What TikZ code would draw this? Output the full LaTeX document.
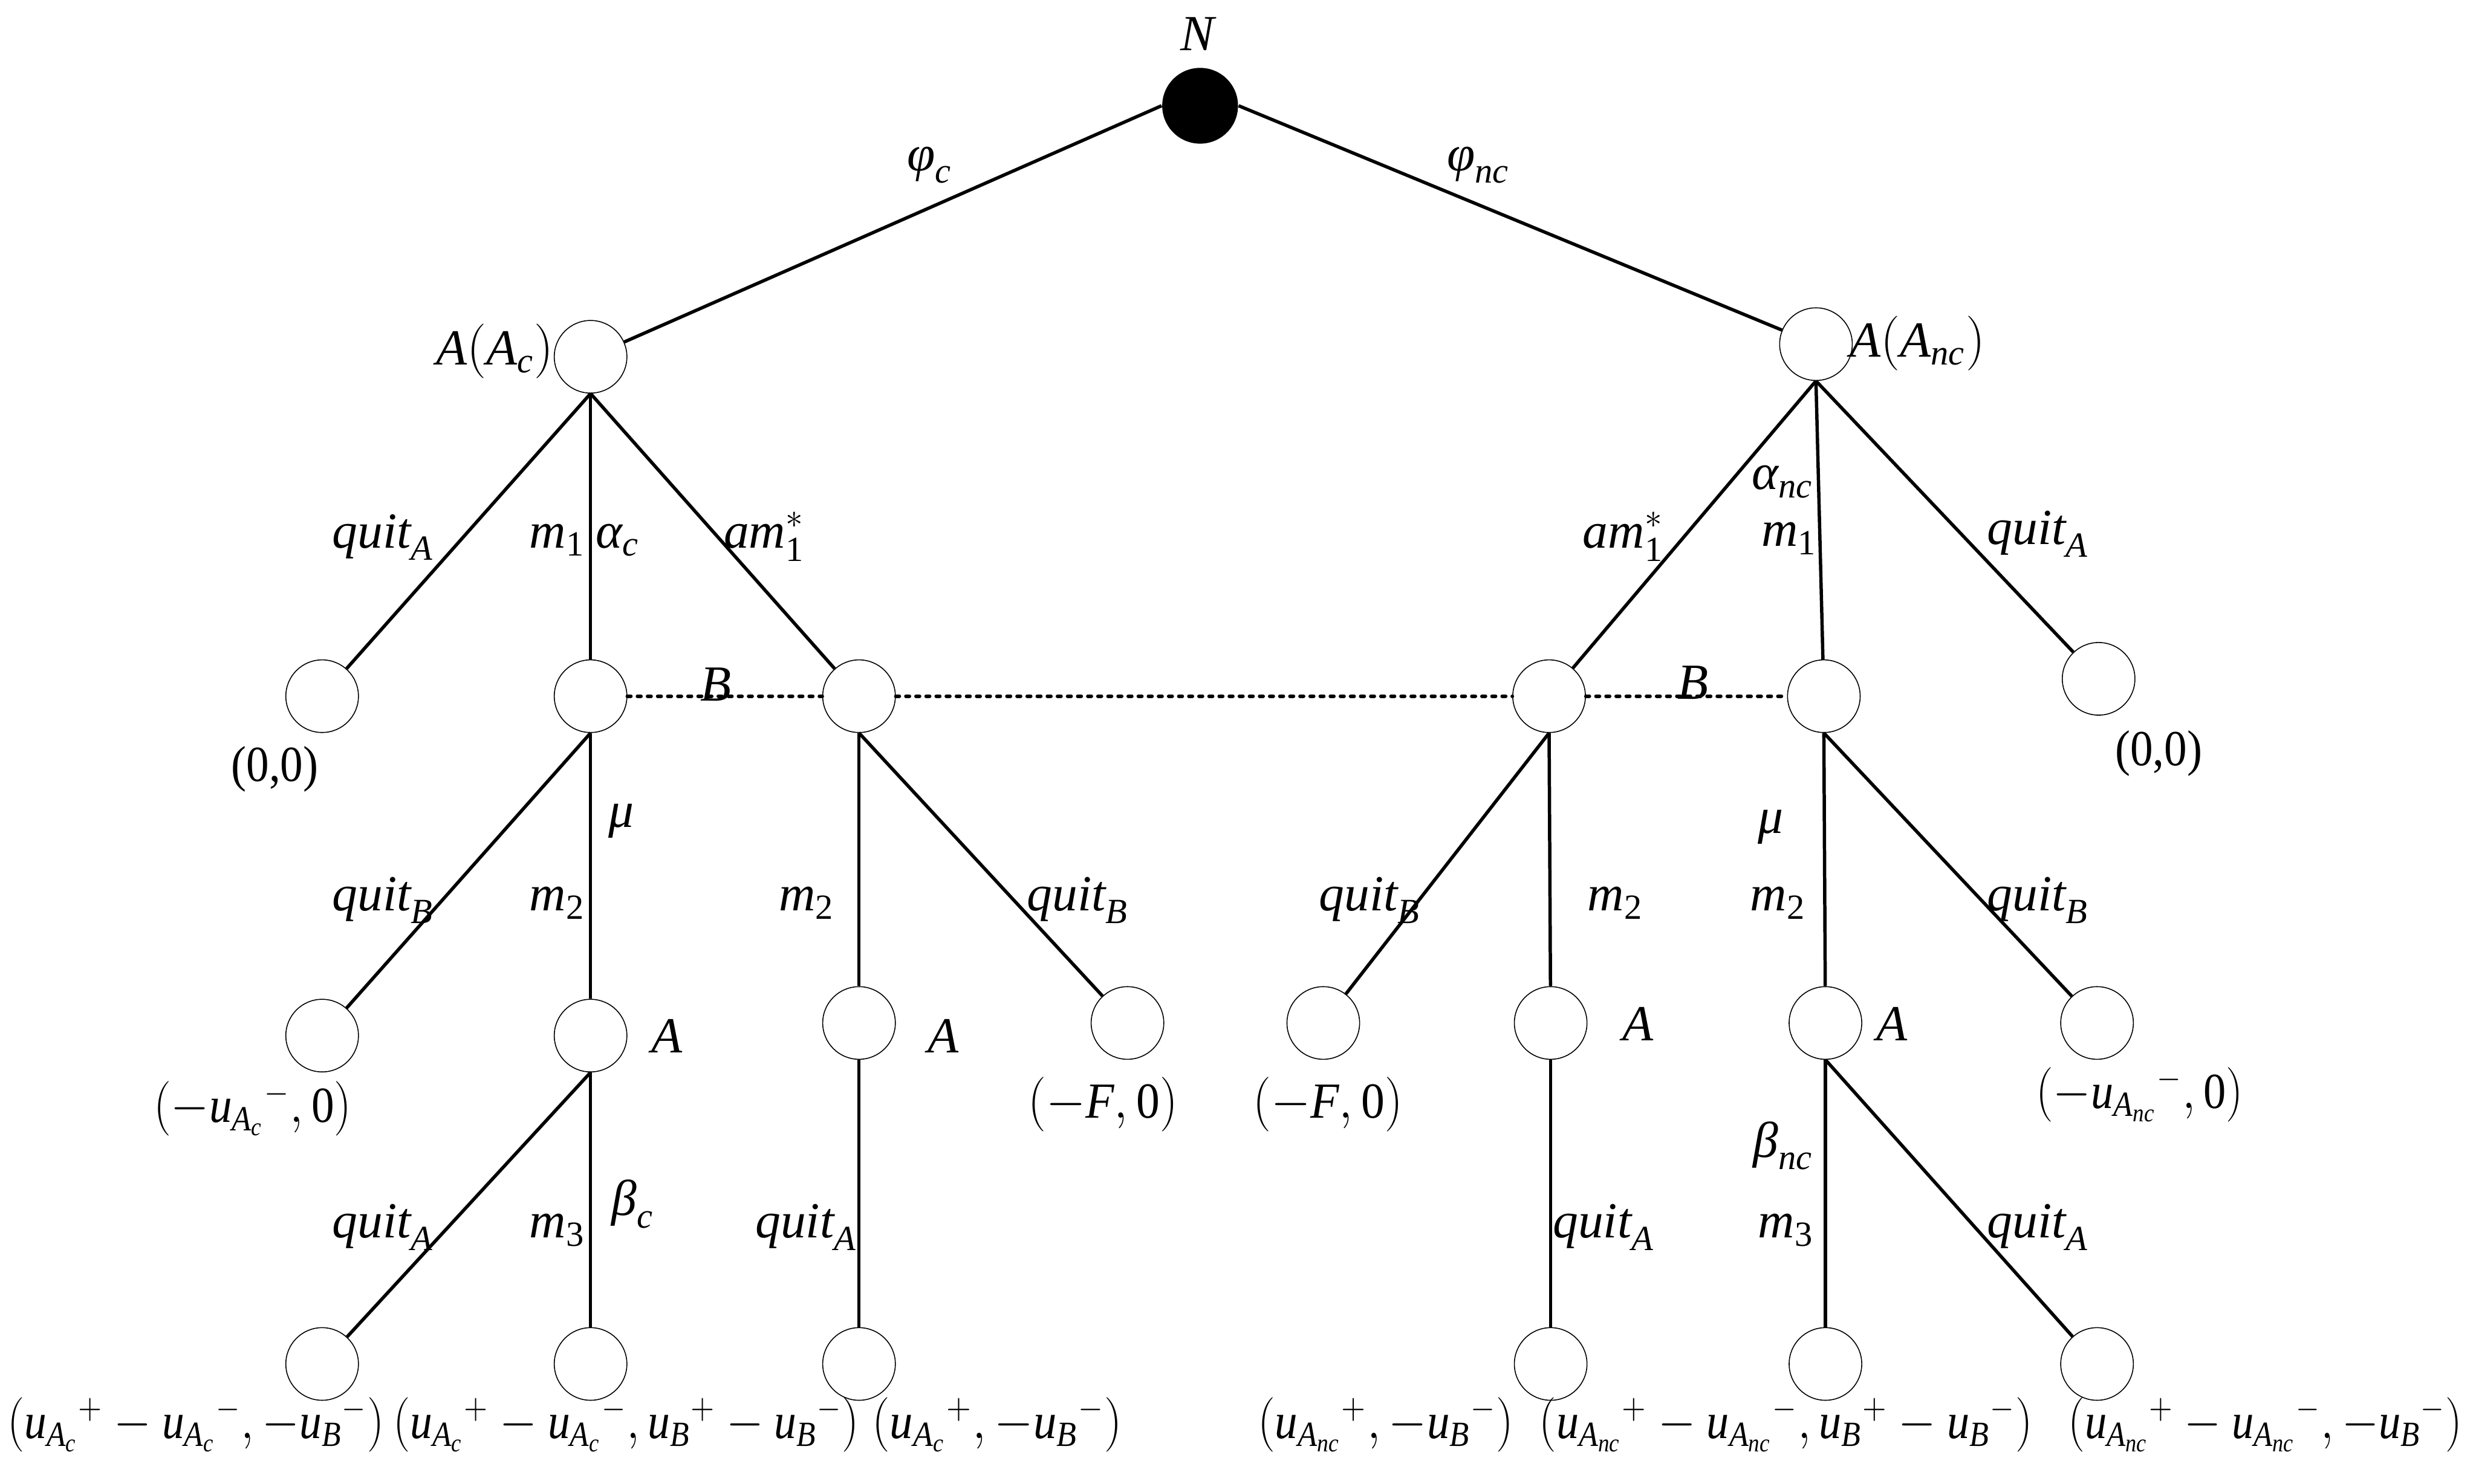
\documentclass[tikz,border=0pt]{standalone}
\usepackage{amsmath}
\usepackage{graphicx}
\usepackage{fontspec}
\setmainfont{Liberation Serif}
\newcommand\ti[1]{\textit{#1}}
\newcommand\tr[1]{\textrm{#1}}
\newcommand\uAc{\ti{u}_{\ti{A}_{\ti{c}}}}
\newcommand\uAnc{\ti{u}_{\ti{A}_{\ti{nc}}}}
\newcommand\uB{\ti{u}_{\ti{B}}}
\newcommand\sq[2]{\scalebox{#1}[1]{#2}}
\begin{document}
\begin{tikzpicture}[x=0.5pt,y=-0.5pt,
  dec/.style={circle,draw,line width=0.3pt,minimum size=23pt,inner sep=0pt},
  chance/.style={circle,fill=black,minimum size=24pt,inner sep=0pt},
  edge/.style={line width=1.05pt},
  info/.style={line width=1.15pt,line cap=round,dash pattern=on 1.1pt off 2.1pt},
  lbl/.style={inner sep=0pt,font=\fontsize{16}{19}\selectfont,anchor=base west},
  pay/.style={inner sep=0pt,font=\fontsize{16}{19}\selectfont,anchor=base}]
\useasboundingbox (0,0) rectangle (1568,940);
% nodes
\node[chance] (n0) at (760,67) {};
\node[dec] (a1) at (374,226) {};
\node[dec] (a2) at (1150,218) {};
\node[dec] (b1) at (204,441) {};
\node[dec] (b2) at (374,441) {};
\node[dec] (b3) at (544,441) {};
\node[dec] (b4) at (981,441) {};
\node[dec] (b5) at (1155,441) {};
\node[dec] (b6) at (1329,430) {};
\node[dec] (c1) at (204,656) {};
\node[dec] (c2) at (374,656) {};
\node[dec] (c3) at (544,648) {};
\node[dec] (c4) at (714,648) {};
\node[dec] (c5) at (838,648) {};
\node[dec] (c6) at (982,648) {};
\node[dec] (c7) at (1156,648) {};
\node[dec] (c8) at (1328,648) {};
\node[dec] (d1) at (204,864) {};
\node[dec] (d2) at (374,864) {};
\node[dec] (d3) at (544,864) {};
\node[dec] (d4) at (982,864) {};
\node[dec] (d5) at (1156,864) {};
\node[dec] (d6) at (1328,864) {};
% edges
\draw[edge] (n0.west) -- (a1);
\draw[edge] (n0.east) -- (a2);
\draw[edge] (a1.south) -- (b1);
\draw[edge] (a1.south) -- (b2);
\draw[edge] (a1.south) -- (b3);
\draw[edge] (a2.south) -- (b4);
\draw[edge] (a2.south) -- (b5);
\draw[edge] (a2.south) -- (b6);
\draw[edge] (b2.south) -- (c1);
\draw[edge] (b2.south) -- (c2);
\draw[edge] (b3.south) -- (c3);
\draw[edge] (b3.south) -- (c4);
\draw[edge] (b4.south) -- (c5);
\draw[edge] (b4.south) -- (c6);
\draw[edge] (b5.south) -- (c7);
\draw[edge] (b5.south) -- (c8);
\draw[edge] (c2.south) -- (d1);
\draw[edge] (c2.south) -- (d2);
\draw[edge] (c3.south) -- (d3);
\draw[edge] (c6.south) -- (d4);
\draw[edge] (c7.south) -- (d5);
\draw[edge] (c7.south) -- (d6);
\draw[info] (b2) -- (b3);
\draw[info] (b3) -- (b4);
\draw[info] (b4) -- (b5);
% labels
\node[lbl,anchor=base] (tN) at (759,32) {\ti{N}};
\node[lbl] (tphic) at (574,108) {$\ti{φ}_{\ti{c}}$};
\node[lbl] (tphinc) at (916,108) {$\ti{φ}_{\ti{nc}}$};
\node[lbl,anchor=base east] (tAc) at (351,231) {$\ti{A}(\ti{A}_{\ti{c}})$};
\node[lbl] (tAnc) at (1171,226) {$\ti{A}(\ti{A}_{\ti{nc}})$};
% level 1
\node[lbl] (q1) at (210,347) {$\ti{quit}_{\ti{A}}$};
\node[lbl] (m1l) at (335,347) {$\ti{m}_{\tr{1}}$};
\node[lbl] (alc) at (377,347) {$\ti{α}_{\ti{c}}$};
\node[lbl] (am1l) at (458,347) {$\ti{am}_{\tr{1}}^{*}$};
\node[lbl] (am1r) at (1002,347) {$\ti{am}_{\tr{1}}^{*}$};
\node[lbl] (alnc) at (1109,310) {$\ti{α}_{\ti{nc}}$};
\node[lbl] (m1r) at (1115,346) {$\ti{m}_{\tr{1}}$};
\node[lbl] (q2) at (1258,345) {$\ti{quit}_{\ti{A}}$};
\node[lbl] (B1) at (443,444) {\ti{B}};
\node[lbl] (B2) at (1062,443) {\ti{B}};
\node[pay] (p00l) at (174,495) {\sq{0.9}{(0,0)}};
\node[pay] (p00r) at (1367,485) {\sq{0.9}{(0,0)}};
% level 2
\node[lbl] (mul) at (385,524) {\ti{μ}};
\node[lbl] (q3) at (210,577) {$\ti{quit}_{\ti{B}}$};
\node[lbl] (m2a) at (335,577) {$\ti{m}_{\tr{2}}$};
\node[lbl] (m2b) at (493,577) {$\ti{m}_{\tr{2}}$};
\node[lbl] (q4) at (650,577) {$\ti{quit}_{\ti{B}}$};
\node[lbl] (q5) at (835,577) {$\ti{quit}_{\ti{B}}$};
\node[lbl] (m2c) at (1005,577) {$\ti{m}_{\tr{2}}$};
\node[lbl] (mur) at (1113,528) {\ti{μ}};
\node[lbl] (m2d) at (1108,577) {$\ti{m}_{\tr{2}}$};
\node[lbl] (q6) at (1258,577) {$\ti{quit}_{\ti{B}}$};
\node[lbl] (A1) at (412,667) {\ti{A}};
\node[lbl] (A2) at (587,667) {\ti{A}};
\node[lbl] (A3) at (1027,659) {\ti{A}};
\node[lbl] (A4) at (1188,659) {\ti{A}};
\node[pay] (p1) at (160,711) {\sq{0.9}{$\left(-\uAc{}^{-},\tr{0}\right)$}};
\node[pay] (p2) at (698.5,708) {\sq{0.93}{$\left(-\ti{F},\tr{0}\right)$}};
\node[pay] (p3) at (841,708) {\sq{0.93}{$\left(-\ti{F},\tr{0}\right)$}};
\node[pay] (p4) at (1355,702) {\sq{0.89}{$\left(-\uAnc{}^{-},\tr{0}\right)$}};
% level 3
\node[lbl] (betc) at (387,770) {$\ti{β}_{\ti{c}}$};
\node[lbl] (betnc) at (1110,733) {$\ti{β}_{\ti{nc}}$};
\node[lbl] (q7) at (210,784) {$\ti{quit}_{\ti{A}}$};
\node[lbl] (m3l) at (335,784) {$\ti{m}_{\tr{3}}$};
\node[lbl] (q8) at (478,784) {$\ti{quit}_{\ti{A}}$};
\node[lbl] (q9) at (983,784) {$\ti{quit}_{\ti{A}}$};
\node[lbl] (m3r) at (1113,784) {$\ti{m}_{\tr{3}}$};
\node[lbl] (q10) at (1258,784) {$\ti{quit}_{\ti{A}}$};
% payoffs
\node[pay] (r1) at (124,911) {\sq{0.88}{$\left(\uAc{}^{+}-\uAc{}^{-},-\uB{}^{-}\right)$}};
\node[pay] (r2) at (396.5,911) {\sq{0.88}{$\left(\uAc{}^{+}-\uAc{}^{-},\uB{}^{+}-\uB{}^{-}\right)$}};
\node[pay] (r3) at (631.5,911) {\sq{0.92}{$\left(\uAc{}^{+},-\uB{}^{-}\right)$}};
\node[pay] (r4) at (877.5,911) {\sq{0.9}{$\left(\uAnc{}^{+},-\uB{}^{-}\right)$}};
\node[pay] (r5) at (1131,911) {\sq{0.89}{$\left(\uAnc{}^{+}-\uAnc{}^{-},\uB{}^{+}-\uB{}^{-}\right)$}};
\node[pay] (r6) at (1434.5,911) {\sq{0.87}{$\left(\uAnc{}^{+}-\uAnc{}^{-},-\uB{}^{-}\right)$}};
\end{tikzpicture}
\end{document}
